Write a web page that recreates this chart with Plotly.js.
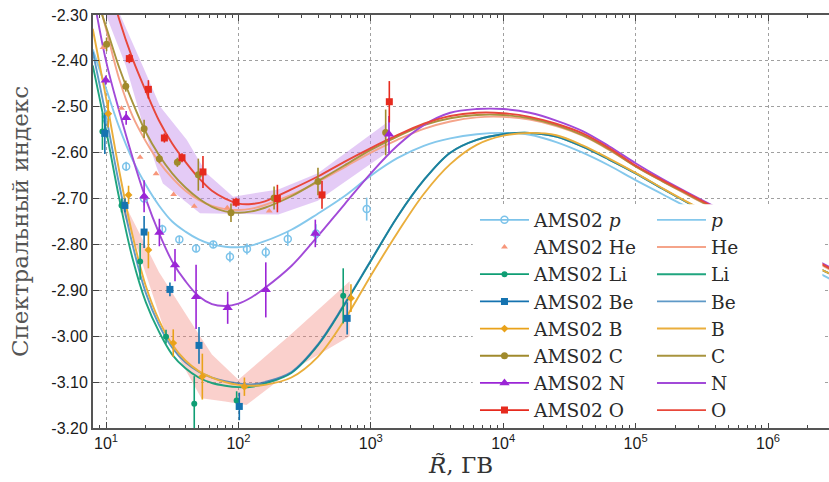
<!DOCTYPE html>
<html><head><meta charset="utf-8">
<script src="https://cdn.plot.ly/plotly-3.0.1.min.js"></script>
<style>html,body{margin:0;padding:0;background:#fff}#chart{width:829px;height:482px}</style>
</head><body><div id="chart"></div>
<script>
// ---------- model curves (rigidity grid, GV) ----------
const modelR = [7.94, 10, 12.59, 15.85, 19.95, 25.12, 31.62, 39.81, 50.12, 63.10, 79.43, 100, 125.9, 158.5, 251.2, 398.1, 631.0, 1000, 1585, 2512, 3981, 6310, 10000, 15850, 25120, 39810, 63100, 100000, 158500, 251200, 398100, 1000000, 3162000];
const model_p  = [-2.375,-2.46,-2.545,-2.615,-2.67,-2.715,-2.75,-2.772,-2.789,-2.80,-2.805,-2.806,-2.802,-2.793,-2.768,-2.733,-2.695,-2.65,-2.612,-2.585,-2.569,-2.56,-2.557,-2.561,-2.577,-2.60,-2.628,-2.66,-2.69,-2.72,-2.748,-2.805,-2.88];
const model_He = [-2.22,-2.33,-2.44,-2.52,-2.575,-2.62,-2.655,-2.683,-2.703,-2.716,-2.723,-2.725,-2.722,-2.714,-2.692,-2.664,-2.632,-2.60,-2.572,-2.548,-2.532,-2.523,-2.522,-2.528,-2.542,-2.563,-2.594,-2.63,-2.662,-2.693,-2.723,-2.782,-2.86];
const model_Li = [-2.41,-2.55,-2.70,-2.83,-2.925,-2.99,-3.04,-3.07,-3.09,-3.102,-3.108,-3.111,-3.11,-3.103,-3.08,-3.02,-2.932,-2.836,-2.74,-2.66,-2.60,-2.572,-2.56,-2.557,-2.565,-2.587,-2.615,-2.645,-2.678,-2.71,-2.74,-2.80,-2.868];
const model_Be = [-2.38,-2.52,-2.67,-2.80,-2.905,-2.975,-3.025,-3.057,-3.077,-3.09,-3.098,-3.103,-3.105,-3.10,-3.078,-3.018,-2.93,-2.835,-2.74,-2.66,-2.60,-2.572,-2.56,-2.557,-2.565,-2.587,-2.615,-2.645,-2.678,-2.71,-2.74,-2.80,-2.868];
const model_B  = [-2.33,-2.48,-2.64,-2.78,-2.89,-2.965,-3.018,-3.053,-3.076,-3.09,-3.10,-3.106,-3.108,-3.106,-3.09,-3.045,-2.965,-2.868,-2.775,-2.69,-2.625,-2.583,-2.563,-2.557,-2.562,-2.584,-2.613,-2.644,-2.677,-2.709,-2.739,-2.80,-2.868];
const model_C  = [-2.24,-2.325,-2.415,-2.49,-2.555,-2.605,-2.645,-2.676,-2.70,-2.718,-2.728,-2.731,-2.728,-2.72,-2.695,-2.662,-2.628,-2.594,-2.565,-2.54,-2.525,-2.518,-2.518,-2.525,-2.54,-2.562,-2.593,-2.63,-2.662,-2.692,-2.722,-2.78,-2.858];
const model_N  = [-2.25,-2.40,-2.51,-2.61,-2.70,-2.775,-2.837,-2.88,-2.913,-2.93,-2.934,-2.929,-2.915,-2.895,-2.847,-2.782,-2.713,-2.645,-2.585,-2.54,-2.513,-2.505,-2.505,-2.513,-2.53,-2.553,-2.586,-2.623,-2.657,-2.688,-2.718,-2.778,-2.855];
const model_O  = [-2.10,-2.20,-2.31,-2.395,-2.465,-2.53,-2.58,-2.62,-2.655,-2.683,-2.70,-2.711,-2.712,-2.706,-2.68,-2.652,-2.62,-2.59,-2.562,-2.537,-2.52,-2.513,-2.514,-2.522,-2.537,-2.558,-2.59,-2.628,-2.66,-2.69,-2.72,-2.78,-2.857];

// ---------- uncertainty bands (polygon outlines) ----------
const bandLiBeB_R = [13.2, 25.1, 41.7, 63.1, 100, 251, 692, 692, 251, 115, 79.4, 52.5, 28.2, 17.8, 12.6];
const bandLiBeB_v = [-2.70, -2.86, -2.96, -3.04, -3.095, -2.995, -2.88, -3.00, -3.075, -3.15, -3.142, -3.135, -2.995, -2.82, -2.71];
const bandCNO_R = [10, 14.1, 19.05, 24.0, 26.9, 51.3, 200, 398, 1318, 1318, 398, 200, 91.2, 57.5, 40.7, 25.7, 19.05, 12.8];
const bandCNO_v = [-2.30, -2.41, -2.54, -2.63, -2.667, -2.732, -2.735, -2.705, -2.60, -2.535, -2.645, -2.68, -2.696, -2.645, -2.572, -2.50, -2.413, -2.30];

// ---------- AMS02 data ----------
const p_R = [10.0, 14.2, 19.4, 26.6, 35.8, 47.9, 64.6, 86.3, 116, 161, 236, 385, 931];
const p_v = [-2.522, -2.63, -2.70, -2.767, -2.789, -2.809, -2.80, -2.827, -2.81, -2.817, -2.788, -2.776, -2.723];
const p_e = [0.015, 0.01, 0.015, 0.01, 0.008, 0.008, 0.008, 0.012, 0.012, 0.012, 0.015, 0.02, 0.025];
const He_R = [9.5, 13.1, 18.1, 23.9, 32.4, 46.4, 82.4, 171];
const He_v = [-2.371, -2.503, -2.61, -2.646, -2.691, -2.717, -2.72, -2.727];
const Li_R = [9.4, 13.1, 18.1, 28.4, 46.4, 97, 619];
const Li_v = [-2.554, -2.715, -2.837, -3.001, -3.147, -3.14, -2.912];
const Li_e = [0.04, 0.015, 0.04, 0.015, 0.06, 0.02, 0.06];
const Be_R = [9.8, 13.9, 19.4, 30.4, 50.4, 101.6, 663];
const Be_v = [-2.558, -2.715, -2.773, -2.898, -3.02, -3.153, -2.961];
const Be_e = [0.045, 0.015, 0.035, 0.015, 0.04, 0.03, 0.035];
const B_R = [10.4, 14.8, 20.9, 32.2, 53.4, 111, 708];
const B_v = [-2.515, -2.692, -2.812, -3.015, -3.088, -3.11, -2.917];
const B_e = [0.03, 0.02, 0.04, 0.03, 0.05, 0.02, 0.03];
const C_R = [10.1, 14.1, 19.4, 25.3, 34.6, 49.8, 87.9, 186, 399, 1295];
const C_v = [-2.364, -2.455, -2.548, -2.613, -2.621, -2.648, -2.731, -2.699, -2.663, -2.556];
const C_e = [0.015, 0.012, 0.02, 0.01, 0.01, 0.035, 0.02, 0.025, 0.03, 0.05];
const N_R = [9.95, 14.2, 19.4, 25.3, 33.2, 47.9, 83, 161, 381, 1372];
const N_v = [-2.442, -2.524, -2.695, -2.774, -2.845, -2.914, -2.938, -2.899, -2.776, -2.56];
const N_e = [0.01, 0.015, 0.035, 0.03, 0.035, 0.07, 0.035, 0.06, 0.03, 0.04];
const O_R = [15.0, 20.9, 27.6, 37.5, 54, 96, 197, 428, 1380];
const O_v = [-2.395, -2.462, -2.568, -2.611, -2.642, -2.708, -2.70, -2.692, -2.489];
const O_e = [0.01, 0.02, 0.01, 0.01, 0.035, 0.01, 0.03, 0.03, 0.045];

// ---------- axis ticks ----------
const xTickVals = [10, 100, 1000, 10000, 100000, 1000000];
const xTickText = ['10<sup>1</sup>', '10<sup>2</sup>', '10<sup>3</sup>', '10<sup>4</sup>', '10<sup>5</sup>', '10<sup>6</sup>'];
const xMinorVals = [8, 9, 20, 30, 40, 50, 60, 70, 80, 90, 200, 300, 400, 500, 600, 700, 800, 900,
  2000, 3000, 4000, 5000, 6000, 7000, 8000, 9000, 20000, 30000, 40000, 50000, 60000, 70000, 80000, 90000,
  200000, 300000, 400000, 500000, 600000, 700000, 800000, 900000, 2000000];
const yTickVals = [-3.2, -3.1, -3.0, -2.9, -2.8, -2.7, -2.6, -2.5, -2.4, -2.3];
const yTickText = ['-3.20', '-3.10', '-3.00', '-2.90', '-2.80', '-2.70', '-2.60', '-2.50', '-2.40', '-2.30'];

// ---------- styles ----------
const col = {p:'#7cc3ea', He:'#f7967a', Li:'#0f9e74', Be:'#1573b0', B:'#e9a21a', C:'#a08a2c', N:'#9b25d6', O:'#e62a1e'};
const mcol = {p:'#85c8ec', He:'#f5a48a', Li:'rgba(20,160,120,0.95)', Be:'rgba(25,110,175,0.7)', B:'#eaae3c', C:'#a8943e', N:'#a24ad8', O:'#e8473a'};

const traces = [];
traces.push({x: bandCNO_R, y: bandCNO_v, mode:'lines', fill:'toself', fillcolor:'rgba(195,140,235,0.45)', line:{width:0}, showlegend:false, hoverinfo:'skip'});
traces.push({x: bandLiBeB_R, y: bandLiBeB_v, mode:'lines', fill:'toself', fillcolor:'rgba(240,120,110,0.35)', line:{width:0}, showlegend:false, hoverinfo:'skip'});

const models = [['p','<i>p</i>',model_p],['He','He',model_He],['Li','Li',model_Li],['Be','Be',model_Be],
  ['B','B',model_B],['C','C',model_C],['N','N',model_N],['O','O',model_O]];
models.forEach(([k,name,arr]) => {
  traces.push({x: modelR, y: arr, mode:'lines', name: name, legend:'legend2',
    line:{color: mcol[k], width:1.9, shape:'spline', smoothing:1}, hoverinfo:'skip'});
});

const data = [
  ['p','AMS02 <i>p</i>',p_R,p_v,p_e,{symbol:'circle-open', size:7, line:{width:1.5}}],
  ['He','AMS02 He',He_R,He_v,null,{symbol:'triangle-up', size:6}],
  ['Li','AMS02 Li',Li_R,Li_v,Li_e,{symbol:'circle', size:6}],
  ['Be','AMS02 Be',Be_R,Be_v,Be_e,{symbol:'square', size:7}],
  ['B','AMS02 B',B_R,B_v,B_e,{symbol:'diamond', size:6}],
  ['C','AMS02 C',C_R,C_v,C_e,{symbol:'circle', size:7}],
  ['N','AMS02 N',N_R,N_v,N_e,{symbol:'triangle-up', size:9}],
  ['O','AMS02 O',O_R,O_v,O_e,{symbol:'square', size:7}]
];
data.forEach(([k,name,xs,ys,es,mk]) => {
  const marker = Object.assign({color: col[k]}, mk);
  if (mk.line) marker.line = {color: col[k], width: mk.line.width};
  const t = {x: xs, y: ys, mode:'markers', marker: marker, showlegend:false, hoverinfo:'skip'};
  if (es) t.error_y = {type:'data', array: es, visible:true, width:0, thickness:1.6, color: col[k]};
  traces.push(t);
  // legend entry (error-bar style sample)
  traces.push({x:[null], y:[null], name: name, legend:'legend',
    mode: es ? 'lines+markers' : 'markers', marker: marker,
    line:{color: col[k], width:1.8}, hoverinfo:'skip'});
});

const tickFont = {family:'Liberation Sans', size:16, color:'#1a1a1a'};
const legFont = {family:'DejaVu Serif', size:18.6, color:'#2a2a2a'};

const layout = {
  width: 829, height: 482,
  margin: {l:93, r:0, t:15, b:54},
  paper_bgcolor:'#fff', plot_bgcolor:'#fff',
  showlegend: true,
  xaxis: {
    type:'log', range:[0.9018, 6.4607],
    tickmode:'array', tickvals: xTickVals, ticktext: xTickText,
    ticks:'inside', ticklen:6, tickwidth:1, tickcolor:'#444',
    showline:true, linecolor:'#555', linewidth:2, mirror:'ticks',
    showgrid:true, gridcolor:'#a0a0a0', gridwidth:1, griddash:'dot', zeroline:false,
    minor:{tickmode:'array', tickvals: xMinorVals, ticks:'inside', ticklen:3, tickcolor:'#444', showgrid:false},
    tickfont: tickFont,
    title:{text:'<i>R̃</i>, ГВ', font:{family:'DejaVu Serif', size:23, color:'#333'}, standoff:6}
  },
  yaxis: {
    range:[-3.20, -2.30],
    tickmode:'array', tickvals: yTickVals, ticktext: yTickText,
    ticks:'inside', ticklen:6, tickcolor:'#444',
    showline:true, linecolor:'#555', linewidth:2,
    showgrid:true, gridcolor:'#a0a0a0', gridwidth:1, griddash:'dot', zeroline:false,
    tickfont: tickFont,
    title:{text:'Спектральный индекс', font:{family:'DejaVu Serif', size:23, color:'#555'}, standoff:16}
  },
  legend: {x:0.519, y:0.549, xanchor:'left', yanchor:'top', bgcolor:'rgba(0,0,0,0)', borderwidth:0,
    font: legFont, itemwidth:49, tracegroupgap:0},
  legend2: {x:0.7595, y:0.549, xanchor:'left', yanchor:'top', bgcolor:'rgba(0,0,0,0)', borderwidth:0,
    font: legFont, itemwidth:49, tracegroupgap:0},
  shapes: [{type:'rect', xref:'paper', yref:'paper', x0:0.516, x1:0.991, y0:0.012, y1:0.542,
    fillcolor:'#fff', line:{width:0}, layer:'above'}]
};

Plotly.newPlot('chart', traces, layout, {displayModeBar:false, staticPlot:true});
</script>
</body></html>
